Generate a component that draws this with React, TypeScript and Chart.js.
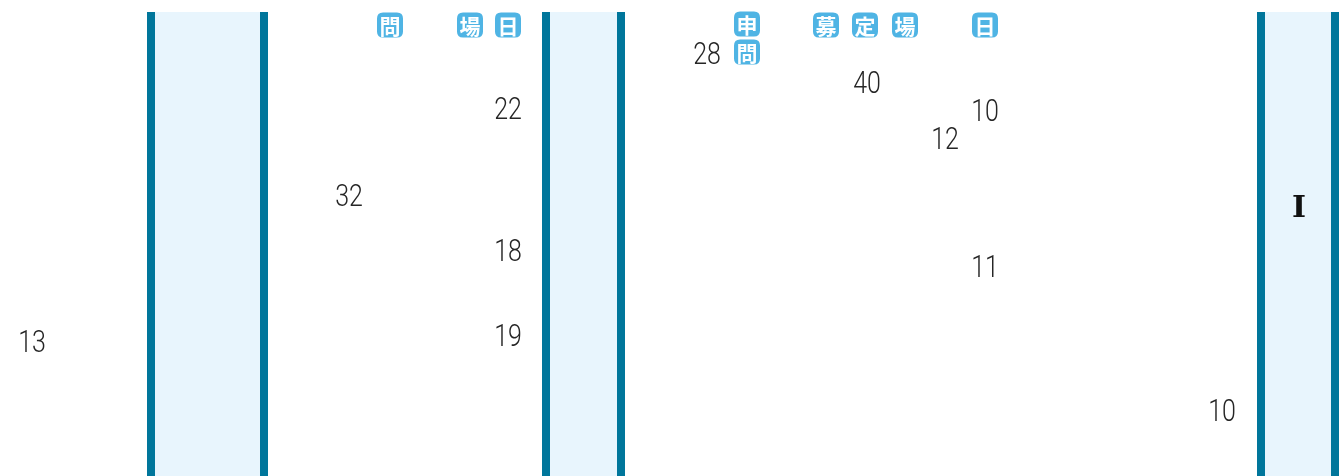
import React, { useEffect, useRef } from "react";
import { Chart, registerables } from "chart.js";

Chart.register(...registerables);

// Column bands (x start / x end in chart units) and their vertical extent
const columnStart = [147, 542, 1257];
const columnEnd = [268, 625, 1339];
const columnTop = 12;
const columnBottom = 480;

// Number labels
const numberText = ["13", "32", "22", "18", "19", "28", "40", "10", "12", "11", "10"];
const numberX = [32, 349, 508, 508, 508, 707, 867, 985, 945, 985, 1222];
const numberY = [342, 196, 109, 251, 336, 54, 83, 111, 139, 267, 411];

// Badge labels
const badgeText = ["問", "場", "日", "申", "問", "募", "定", "場", "日"];
const badgeX = [390, 470, 508, 747, 747, 826, 865, 905, 985];
const badgeY = [25, 25, 25, 24, 52, 25, 25, 25, 25];

// Marker label
const markerText = ["I"];
const markerX = [1299];
const markerY = [209];

const BORDER = "#00769b";
const FILL = "#e8f5fd";
const BADGE = "#4fb4e4";

function roundRect(ctx: CanvasRenderingContext2D, x: number, y: number, w: number, h: number, r: number) {
  ctx.beginPath();
  ctx.moveTo(x + r, y);
  ctx.lineTo(x + w - r, y);
  ctx.quadraticCurveTo(x + w, y, x + w, y + r);
  ctx.lineTo(x + w, y + h - r);
  ctx.quadraticCurveTo(x + w, y + h, x + w - r, y + h);
  ctx.lineTo(x + r, y + h);
  ctx.quadraticCurveTo(x, y + h, x, y + h - r);
  ctx.lineTo(x, y + r);
  ctx.quadraticCurveTo(x, y, x + r, y);
  ctx.closePath();
}

const columnsPlugin = {
  id: "columns",
  beforeDatasetsDraw(chart: any) {
    const { ctx, scales } = chart;
    const xs = scales.x;
    const ys = scales.y;
    ctx.save();
    for (let i = 0; i < columnStart.length; i++) {
      const x0 = xs.getPixelForValue(columnStart[i]);
      const x1 = xs.getPixelForValue(columnEnd[i]);
      const y0 = ys.getPixelForValue(columnTop);
      const y1 = ys.getPixelForValue(columnBottom);
      ctx.fillStyle = FILL;
      ctx.fillRect(x0, y0, x1 - x0, y1 - y0);
      ctx.fillStyle = BORDER;
      ctx.fillRect(x0, y0, 8, y1 - y0);
      ctx.fillRect(x1 - 8, y0, 8, y1 - y0);
    }
    ctx.restore();
  },
};

const textPlugin = {
  id: "texts",
  afterDatasetsDraw(chart: any) {
    const { ctx } = chart;
    ctx.save();
    chart.data.datasets.forEach((ds: any, di: number) => {
      const meta = chart.getDatasetMeta(di);
      meta.data.forEach((pt: any, i: number) => {
        const t = ds.texts[i];
        const x = pt.x;
        const y = pt.y;
        ctx.textAlign = "center";
        ctx.textBaseline = "middle";
        if (ds.kind === "number") {
          ctx.save();
          ctx.translate(x, y + 2);
          ctx.scale(0.78, 1);
          ctx.font = "300 32px Roboto, sans-serif";
          ctx.fillStyle = "#262626";
          ctx.fillText(t, 0, 0);
          ctx.restore();
        } else if (ds.kind === "badge") {
          ctx.fillStyle = BADGE;
          roundRect(ctx, x - 13, y - 12.5, 26, 25, 6);
          ctx.fill();
          ctx.font = "bold 21px 'Noto Sans CJK JP', sans-serif";
          ctx.fillStyle = "#ffffff";
          ctx.fillText(t, x, y + 1);
        } else {
          ctx.font = "bold 30px 'DejaVu Serif', serif";
          ctx.fillStyle = "#111111";
          ctx.fillText(t, x, y);
        }
      });
    });
    ctx.restore();
  },
};

export default function App() {
  const ref = useRef<HTMLCanvasElement>(null);
  useEffect(() => {
    document.body.style.margin = "0";
    const canvas = ref.current!;
    const chart = new Chart(canvas, {
      type: "scatter",
      data: {
        datasets: [
          {
            kind: "number",
            texts: numberText,
            data: numberX.map((x, i) => ({ x, y: numberY[i] })),
            pointRadius: 0,
          } as any,
          {
            kind: "badge",
            texts: badgeText,
            data: badgeX.map((x, i) => ({ x, y: badgeY[i] })),
            pointRadius: 0,
          } as any,
          {
            kind: "marker",
            texts: markerText,
            data: markerX.map((x, i) => ({ x, y: markerY[i] })),
            pointRadius: 0,
          } as any,
        ],
      },
      options: {
        responsive: false,
        animation: false,
        layout: { padding: 0 },
        plugins: { legend: { display: false }, tooltip: { enabled: false } },
        events: [],
        scales: {
          x: { type: "linear", min: 0, max: 1339, display: false },
          y: { type: "linear", min: 0, max: 476, reverse: true, display: false },
        },
      },
      plugins: [columnsPlugin, textPlugin],
    });
    return () => chart.destroy();
  }, []);
  return (
    <div style={{ width: 1339, height: 476, overflow: "hidden" }}>
      <canvas ref={ref} width={1339} height={476} style={{ display: "block" }} />
    </div>
  );
}
